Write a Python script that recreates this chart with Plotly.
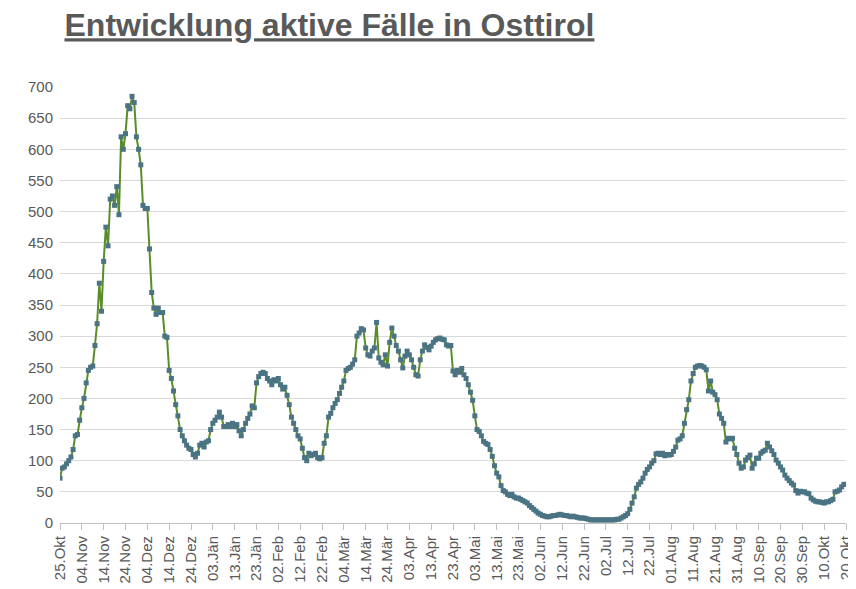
import datetime as dt
import plotly.graph_objects as go

start = dt.date(2020, 10, 25)
months = ["Jän", "Feb", "Mär", "Apr", "Mai", "Jun", "Jul", "Aug", "Sep", "Okt", "Nov", "Dez"]

active_cases = [
    72, 88, 90, 95, 100, 106, 118, 140, 142, 165,
    185, 200, 225, 245, 250, 252, 285, 320, 385, 340,
    420, 475, 445, 520, 525, 510, 540, 495, 620, 600,
    625, 670, 665, 685, 675, 620, 600, 575, 510, 505,
    505, 440, 370, 345, 335, 345, 338, 338, 300, 298,
    245, 232, 212, 190, 172, 150, 140, 132, 125, 120,
    118, 110, 106, 112, 125, 128, 122, 130, 132, 150,
    160, 165, 170, 178, 170, 155, 155, 158, 155, 160,
    155, 158, 148, 140, 150, 160, 168, 175, 188, 185,
    225, 235, 240, 242, 240, 232, 228, 222, 230, 228,
    232, 222, 215, 218, 205, 190, 170, 160, 150, 140,
    135, 120, 105, 100, 112, 108, 110, 112, 105, 103,
    105, 128, 140, 170, 176, 185, 192, 198, 208, 218,
    228, 245, 248, 250, 255, 262, 300, 305, 312, 310,
    281, 270, 268, 276, 281, 322, 265, 258, 254, 270,
    252, 290, 313, 300, 285, 276, 262, 249, 268, 276,
    270, 262, 250, 238, 236, 262, 276, 286, 282, 278,
    284, 290, 294, 296, 297, 295, 294, 286, 284, 285,
    244, 238, 245, 242, 248, 238, 232, 222, 210, 197,
    172, 150, 147, 140, 131, 128, 126, 118, 107, 92,
    80, 74, 60, 52, 50, 46, 44, 46, 42, 40,
    40, 38, 36, 34, 32, 28, 25, 22, 19, 16,
    14, 12, 11, 10, 10, 11, 12, 12, 13, 14,
    13, 12, 12, 11, 10, 11, 10, 9, 8, 8,
    8, 7, 6, 5, 5, 5, 5, 5, 5, 5,
    5, 5, 5, 5, 5, 6, 6, 8, 10, 12,
    15, 22, 32, 42, 56, 62, 66, 72, 80, 86,
    90, 96, 100, 111, 112, 110, 112, 108, 110, 109,
    110, 115, 122, 133, 135, 140, 160, 182, 198, 228,
    240, 250, 252, 253, 252, 250, 246, 212, 228, 210,
    206, 198, 175, 168, 160, 130, 136, 135, 136, 120,
    110, 96, 88, 90, 101, 105, 109, 88, 95, 104,
    104, 112, 115, 117, 128, 122, 116, 110, 101, 96,
    90, 85, 77, 72, 68, 64, 61, 52, 48, 51,
    50, 50, 48, 47, 40, 37, 35, 34, 34, 33,
    32, 34, 34, 36, 38, 50, 51, 53, 58, 62,
    62,
]

day_index = list(range(len(active_cases)))
tick_positions = list(range(0, len(active_cases), 10))


def label(i):
    d = start + dt.timedelta(days=i)
    return f"{d.day:02d}.{months[d.month - 1]}"


tick_labels = [label(i) for i in tick_positions]

fig = go.Figure(go.Scatter(
    x=day_index, y=active_cases, mode="lines+markers",
    line=dict(color="#5b8c2a", width=2),
    marker=dict(symbol="square", size=5, color="#4a7383"),
))

fig.update_layout(
    width=856, height=589,
    margin=dict(l=52, r=18, t=79, b=74),
    paper_bgcolor="white", plot_bgcolor="white",
    font=dict(family="Liberation Sans, Arial", color="#595959", size=15),
    showlegend=False,
    title=dict(text="<b><u>Entwicklung aktive Fälle in Osttirol</u></b>",
               x=0.066, xanchor="left", y=0.99, yanchor="top",
               font=dict(size=32, color="#595959")),
)
fig.update_xaxes(range=[0, 360], tickvals=tick_positions, ticktext=tick_labels,
                 tickangle=-90, ticks="outside", ticklen=6, tickcolor="#bfbfbf",
                 showgrid=False, showline=True, linecolor="#bfbfbf", automargin=False,
                 tickfont=dict(size=15), zeroline=False)
fig.update_yaxes(range=[0, 700], dtick=50, showgrid=True, gridcolor="#d9d9d9",
                 automargin=False, zeroline=False, tickfont=dict(size=15), ticks="",
                 ticklabelstandoff=6)

fig.write_html("out.html")
